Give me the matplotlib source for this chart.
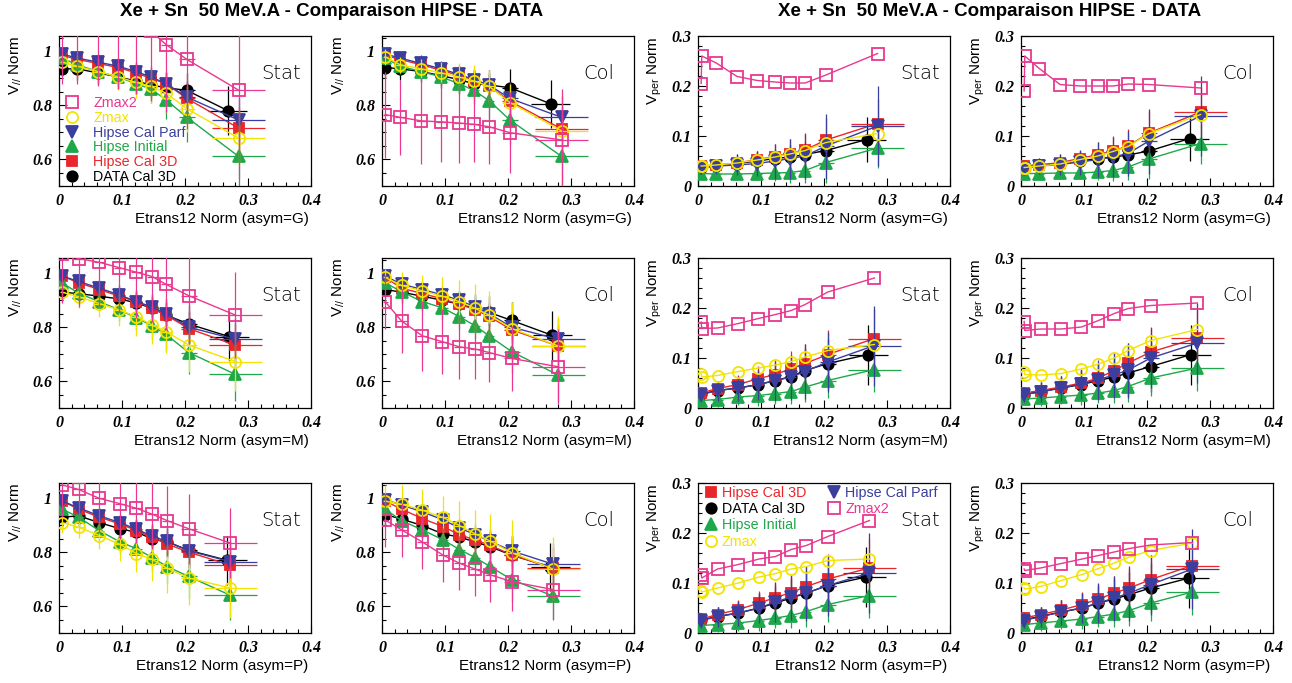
import matplotlib
matplotlib.use("Agg")
import matplotlib.pyplot as plt
from matplotlib.lines import Line2D
from matplotlib.ticker import MultipleLocator
from matplotlib.font_manager import FontProperties

plt.rcParams['font.family'] = ['Liberation Sans', 'DejaVu Sans']
plt.rcParams['mathtext.default'] = 'regular'

# ---------------------------------------------------------------- data
# bin centres in Etrans12 Norm, one list per asymmetry class
x_G = [0.005, 0.029, 0.062, 0.094, 0.122, 0.146, 0.170, 0.203, 0.285]
x_M = [0.005, 0.031, 0.064, 0.096, 0.123, 0.148, 0.170, 0.206, 0.280]
x_P = [0.005, 0.031, 0.064, 0.097, 0.123, 0.148, 0.172, 0.206, 0.272]
# DATA : last bin is a bit lower
xdata_G = [0.005, 0.029, 0.062, 0.094, 0.122, 0.146, 0.170, 0.203, 0.268]
xdata_M = [0.005, 0.031, 0.064, 0.096, 0.123, 0.148, 0.170, 0.206, 0.270]
xdata_P = [0.005, 0.031, 0.064, 0.097, 0.123, 0.148, 0.172, 0.206, 0.267]
# Zmax / Zmax2 in the Vper plots have the first bin twice
xz_G = [0.005, 0.006, 0.029, 0.062, 0.094, 0.122, 0.146, 0.170, 0.203, 0.285]
xz_M = [0.005, 0.006, 0.031, 0.064, 0.096, 0.123, 0.148, 0.170, 0.206, 0.280]
xz_P = [0.005, 0.006, 0.031, 0.064, 0.097, 0.123, 0.148, 0.172, 0.206, 0.272]

xerr_model = [0.004, 0.008, 0.008, 0.008, 0.008, 0.008, 0.008, 0.013, 0.042]
xerr_data = [0.004, 0.008, 0.008, 0.008, 0.008, 0.008, 0.008, 0.013, 0.031]

# ---- V// , asym=G
vpar_G_stat = dict(
    data=[0.935, 0.935, 0.92, 0.905, 0.89, 0.875, 0.865, 0.855, 0.78],
    cal3d=[0.985, 0.97, 0.955, 0.94, 0.92, 0.90, 0.88, 0.825, 0.715],
    initial=[0.975, 0.95, 0.925, 0.905, 0.88, 0.86, 0.82, 0.755, 0.61],
    parf=[0.99, 0.975, 0.96, 0.945, 0.925, 0.905, 0.88, 0.83, 0.745],
    zmax=[0.96, 0.945, 0.925, 0.905, 0.885, 0.87, 0.845, 0.787, 0.678],
    zmax2=[1.18, 1.16, 1.14, 1.12, 1.10, 1.075, 1.025, 0.97, 0.856])
vpar_G_stat_err = dict(
    data=[0.025, 0.04, 0.04, 0.045, 0.05, 0.05, 0.055, 0.065, 0.09],
    cal3d=[0.02, 0.025, 0.03, 0.03, 0.035, 0.04, 0.045, 0.06, 0.08],
    initial=[0.02, 0.03, 0.03, 0.035, 0.04, 0.05, 0.07, 0.09, 0.12],
    parf=[0.02, 0.025, 0.03, 0.03, 0.035, 0.04, 0.045, 0.06, 0.08],
    zmax=[0.03, 0.04, 0.05, 0.05, 0.06, 0.06, 0.07, 0.085, 0.1],
    zmax2=[0.3, 0.28, 0.27, 0.26, 0.26, 0.26, 0.25, 0.26, 0.33])
vpar_G_col = dict(
    data=[0.94, 0.935, 0.925, 0.91, 0.895, 0.88, 0.875, 0.865, 0.805],
    cal3d=[0.985, 0.97, 0.95, 0.93, 0.91, 0.89, 0.87, 0.815, 0.712],
    initial=[0.975, 0.945, 0.925, 0.905, 0.88, 0.855, 0.817, 0.745, 0.61],
    parf=[0.99, 0.975, 0.955, 0.935, 0.915, 0.895, 0.875, 0.825, 0.755],
    zmax=[0.98, 0.95, 0.935, 0.92, 0.905, 0.89, 0.87, 0.81, 0.705],
    zmax2=[0.765, 0.755, 0.742, 0.738, 0.734, 0.729, 0.72, 0.698, 0.671])
vpar_G_col_err = dict(
    data=[0.04, 0.04, 0.04, 0.045, 0.05, 0.05, 0.055, 0.07, 0.09],
    cal3d=[0.02, 0.025, 0.03, 0.03, 0.035, 0.04, 0.045, 0.06, 0.08],
    initial=[0.02, 0.03, 0.03, 0.035, 0.04, 0.05, 0.07, 0.09, 0.12],
    parf=[0.02, 0.025, 0.03, 0.03, 0.035, 0.04, 0.045, 0.06, 0.08],
    zmax=[0.03, 0.03, 0.035, 0.04, 0.05, 0.06, 0.06, 0.07, 0.1],
    zmax2=[0.16, 0.14, 0.16, 0.15, 0.15, 0.14, 0.14, 0.15, 0.19])

# ---- V// , asym=M
vpar_M_stat = dict(
    data=[0.93, 0.925, 0.915, 0.905, 0.89, 0.87, 0.845, 0.812, 0.765],
    cal3d=[0.99, 0.965, 0.94, 0.915, 0.895, 0.87, 0.845, 0.795, 0.733],
    initial=[0.965, 0.926, 0.895, 0.864, 0.835, 0.805, 0.773, 0.706, 0.625],
    parf=[0.99, 0.97, 0.945, 0.92, 0.895, 0.875, 0.85, 0.80, 0.755],
    zmax=[0.93, 0.913, 0.888, 0.864, 0.839, 0.808, 0.783, 0.734, 0.672],
    zmax2=[1.07, 1.055, 1.041, 1.021, 1.004, 0.988, 0.959, 0.917, 0.845])
vpar_M_stat_err = dict(
    data=[0.03, 0.04, 0.045, 0.05, 0.05, 0.055, 0.06, 0.07, 0.09],
    cal3d=[0.02, 0.025, 0.03, 0.03, 0.035, 0.04, 0.045, 0.06, 0.08],
    initial=[0.02, 0.03, 0.035, 0.04, 0.045, 0.05, 0.06, 0.08, 0.1],
    parf=[0.02, 0.025, 0.03, 0.03, 0.035, 0.04, 0.045, 0.06, 0.08],
    zmax=[0.04, 0.04, 0.05, 0.06, 0.07, 0.07, 0.08, 0.1, 0.11],
    zmax2=[0.18, 0.18, 0.17, 0.17, 0.17, 0.17, 0.17, 0.18, 0.16])
vpar_M_col = dict(
    data=[0.94, 0.93, 0.915, 0.9, 0.885, 0.87, 0.855, 0.825, 0.77],
    cal3d=[0.985, 0.945, 0.925, 0.905, 0.885, 0.865, 0.84, 0.79, 0.73],
    initial=[0.965, 0.932, 0.895, 0.872, 0.839, 0.805, 0.768, 0.709, 0.622],
    parf=[0.99, 0.96, 0.94, 0.92, 0.9, 0.875, 0.85, 0.8, 0.755],
    zmax=[0.985, 0.955, 0.935, 0.915, 0.895, 0.87, 0.845, 0.795, 0.73],
    zmax2=[0.895, 0.823, 0.768, 0.746, 0.727, 0.719, 0.706, 0.684, 0.653])
vpar_M_col_err = dict(
    data=[0.03, 0.04, 0.045, 0.05, 0.05, 0.055, 0.06, 0.07, 0.09],
    cal3d=[0.02, 0.025, 0.03, 0.03, 0.035, 0.04, 0.045, 0.06, 0.08],
    initial=[0.02, 0.03, 0.035, 0.04, 0.045, 0.05, 0.06, 0.08, 0.1],
    parf=[0.02, 0.025, 0.03, 0.03, 0.035, 0.04, 0.045, 0.06, 0.08],
    zmax=[0.03, 0.05, 0.06, 0.07, 0.08, 0.09, 0.09, 0.1, 0.11],
    zmax2=[0.1, 0.12, 0.13, 0.12, 0.12, 0.11, 0.11, 0.12, 0.14])

# ---- V// , asym=P
vpar_P_stat = dict(
    data=[0.93, 0.935, 0.91, 0.887, 0.874, 0.85, 0.838, 0.807, 0.77],
    cal3d=[0.99, 0.96, 0.93, 0.905, 0.88, 0.855, 0.83, 0.8, 0.752],
    initial=[0.96, 0.93, 0.88, 0.838, 0.813, 0.78, 0.746, 0.71, 0.64],
    parf=[0.99, 0.965, 0.935, 0.91, 0.885, 0.86, 0.84, 0.805, 0.765],
    zmax=[0.91, 0.893, 0.862, 0.829, 0.795, 0.773, 0.74, 0.704, 0.667],
    zmax2=[1.05, 1.033, 1.0, 0.98, 0.963, 0.941, 0.917, 0.887, 0.834])
vpar_P_stat_err = dict(
    data=[0.04, 0.04, 0.045, 0.05, 0.05, 0.055, 0.06, 0.07, 0.09],
    cal3d=[0.02, 0.025, 0.03, 0.03, 0.035, 0.04, 0.045, 0.06, 0.08],
    initial=[0.02, 0.03, 0.035, 0.04, 0.045, 0.05, 0.06, 0.08, 0.09],
    parf=[0.02, 0.025, 0.03, 0.03, 0.035, 0.04, 0.045, 0.06, 0.08],
    zmax=[0.04, 0.04, 0.05, 0.06, 0.07, 0.08, 0.09, 0.1, 0.11],
    zmax2=[0.12, 0.12, 0.13, 0.13, 0.13, 0.13, 0.13, 0.13, 0.13])
vpar_P_col = dict(
    data=[0.94, 0.923, 0.899, 0.868, 0.856, 0.838, 0.82, 0.789, 0.746],
    cal3d=[0.99, 0.96, 0.925, 0.895, 0.865, 0.845, 0.825, 0.79, 0.74],
    initial=[0.96, 0.917, 0.883, 0.846, 0.81, 0.78, 0.746, 0.698, 0.637],
    parf=[0.995, 0.975, 0.95, 0.92, 0.89, 0.865, 0.84, 0.805, 0.755],
    zmax=[0.99, 0.978, 0.956, 0.929, 0.899, 0.868, 0.841, 0.798, 0.737],
    zmax2=[0.92, 0.883, 0.838, 0.789, 0.759, 0.737, 0.716, 0.691, 0.661])
vpar_P_col_err = dict(
    data=[0.04, 0.04, 0.045, 0.05, 0.05, 0.055, 0.06, 0.07, 0.09],
    cal3d=[0.02, 0.025, 0.03, 0.03, 0.035, 0.04, 0.045, 0.06, 0.08],
    initial=[0.02, 0.03, 0.035, 0.04, 0.045, 0.05, 0.06, 0.08, 0.09],
    parf=[0.02, 0.025, 0.03, 0.03, 0.035, 0.04, 0.045, 0.06, 0.08],
    zmax=[0.06, 0.07, 0.08, 0.08, 0.09, 0.09, 0.1, 0.12, 0.12],
    zmax2=[0.1, 0.1, 0.1, 0.1, 0.1, 0.1, 0.1, 0.11, 0.11])

# ---- Vper (Zmax, Zmax2 : 10 values, no error bars)
vper_G_stat = dict(
    data=[0.036, 0.04, 0.045, 0.05, 0.055, 0.058, 0.063, 0.071, 0.093],
    cal3d=[0.04, 0.042, 0.046, 0.053, 0.059, 0.065, 0.072, 0.092, 0.125],
    initial=[0.025, 0.024, 0.024, 0.025, 0.026, 0.027, 0.031, 0.047, 0.076],
    parf=[0.036, 0.04, 0.042, 0.045, 0.05, 0.055, 0.06, 0.08, 0.12],
    zmax=[0.04, 0.04, 0.042, 0.046, 0.052, 0.058, 0.064, 0.071, 0.087, 0.105],
    zmax2=[0.205, 0.26, 0.246, 0.219, 0.211, 0.208, 0.206, 0.206, 0.222, 0.265])
vper_G_col = dict(
    data=[0.04, 0.042, 0.045, 0.05, 0.055, 0.058, 0.062, 0.07, 0.095],
    cal3d=[0.04, 0.042, 0.047, 0.055, 0.063, 0.07, 0.08, 0.106, 0.148],
    initial=[0.025, 0.025, 0.026, 0.026, 0.028, 0.031, 0.038, 0.054, 0.085],
    parf=[0.035, 0.04, 0.043, 0.048, 0.053, 0.058, 0.065, 0.09, 0.14],
    zmax=[0.037, 0.037, 0.04, 0.044, 0.053, 0.06, 0.069, 0.079, 0.105, 0.143],
    zmax2=[0.19, 0.26, 0.235, 0.203, 0.2, 0.2, 0.2, 0.204, 0.203, 0.196])
vper_G_err = dict(
    data=[0.01, 0.015, 0.02, 0.02, 0.02, 0.025, 0.025, 0.03, 0.045],
    cal3d=[0.01, 0.01, 0.012, 0.015, 0.025, 0.03, 0.035, 0.045, 0.05],
    initial=[0.008, 0.01, 0.012, 0.012, 0.015, 0.02, 0.025, 0.04, 0.04],
    parf=[0.012, 0.015, 0.02, 0.025, 0.035, 0.04, 0.045, 0.065, 0.08])

vper_M_stat = dict(
    data=[0.028, 0.035, 0.04, 0.047, 0.055, 0.063, 0.075, 0.089, 0.107],
    cal3d=[0.03, 0.039, 0.047, 0.059, 0.067, 0.079, 0.089, 0.107, 0.139],
    initial=[0.015, 0.017, 0.022, 0.025, 0.029, 0.033, 0.042, 0.055, 0.077],
    parf=[0.027, 0.035, 0.04, 0.047, 0.055, 0.062, 0.073, 0.092, 0.125],
    zmax=[0.068, 0.062, 0.065, 0.073, 0.08, 0.086, 0.093, 0.102, 0.115, 0.127],
    zmax2=[0.172, 0.159, 0.16, 0.169, 0.179, 0.187, 0.195, 0.207, 0.232, 0.26])
vper_M_col = dict(
    data=[0.027, 0.033, 0.04, 0.047, 0.055, 0.062, 0.07, 0.083, 0.107],
    cal3d=[0.03, 0.035, 0.042, 0.05, 0.06, 0.075, 0.09, 0.112, 0.14],
    initial=[0.018, 0.02, 0.023, 0.026, 0.03, 0.035, 0.043, 0.06, 0.08],
    parf=[0.027, 0.032, 0.04, 0.048, 0.057, 0.066, 0.076, 0.1, 0.13],
    zmax=[0.072, 0.067, 0.066, 0.069, 0.078, 0.088, 0.1, 0.115, 0.135, 0.157],
    zmax2=[0.173, 0.155, 0.158, 0.158, 0.162, 0.175, 0.189, 0.199, 0.205, 0.21])
vper_M_err = dict(
    data=[0.015, 0.02, 0.025, 0.03, 0.035, 0.04, 0.045, 0.05, 0.06],
    cal3d=[0.01, 0.015, 0.02, 0.025, 0.03, 0.035, 0.04, 0.05, 0.06],
    initial=[0.01, 0.015, 0.015, 0.02, 0.02, 0.025, 0.03, 0.035, 0.045],
    parf=[0.015, 0.02, 0.025, 0.03, 0.04, 0.045, 0.055, 0.06, 0.08])

vper_P_stat = dict(
    data=[0.026, 0.033, 0.04, 0.05, 0.06, 0.07, 0.08, 0.095, 0.112],
    cal3d=[0.028, 0.037, 0.047, 0.06, 0.071, 0.081, 0.093, 0.108, 0.13],
    initial=[0.015, 0.017, 0.02, 0.025, 0.03, 0.035, 0.043, 0.057, 0.075],
    parf=[0.025, 0.033, 0.04, 0.05, 0.062, 0.072, 0.08, 0.095, 0.12],
    zmax=[0.085, 0.082, 0.09, 0.1, 0.112, 0.119, 0.128, 0.133, 0.145, 0.148],
    zmax2=[0.117, 0.11, 0.128, 0.137, 0.148, 0.153, 0.167, 0.175, 0.193, 0.225])
vper_P_col = dict(
    data=[0.027, 0.033, 0.042, 0.05, 0.06, 0.068, 0.077, 0.09, 0.11],
    cal3d=[0.03, 0.037, 0.046, 0.057, 0.068, 0.08, 0.09, 0.107, 0.135],
    initial=[0.017, 0.02, 0.024, 0.028, 0.033, 0.038, 0.045, 0.06, 0.082],
    parf=[0.025, 0.033, 0.042, 0.05, 0.06, 0.07, 0.08, 0.097, 0.128],
    zmax=[0.09, 0.088, 0.093, 0.105, 0.117, 0.129, 0.14, 0.152, 0.165, 0.18],
    zmax2=[0.128, 0.125, 0.13, 0.139, 0.148, 0.155, 0.162, 0.169, 0.176, 0.181])
vper_P_err = dict(
    data=[0.015, 0.02, 0.025, 0.03, 0.035, 0.04, 0.045, 0.05, 0.06],
    cal3d=[0.01, 0.015, 0.02, 0.025, 0.03, 0.035, 0.04, 0.05, 0.06],
    initial=[0.01, 0.015, 0.015, 0.02, 0.02, 0.025, 0.03, 0.035, 0.045],
    parf=[0.015, 0.02, 0.025, 0.03, 0.04, 0.045, 0.055, 0.06, 0.08])

# ---------------------------------------------------------------- styles
series = ['data', 'cal3d', 'initial', 'parf', 'zmax', 'zmax2']   # drawing order
labels = {'data': 'DATA Cal 3D', 'cal3d': 'Hipse Cal 3D', 'initial': 'Hipse Initial',
          'parf': 'Hipse Cal Parf', 'zmax': 'Zmax', 'zmax2': 'Zmax2'}
colors = {'data': 'black', 'cal3d': '#e8262b', 'initial': '#1ea84a',
          'parf': '#3a3e9e', 'zmax': '#f2e400', 'zmax2': '#e8388f'}
markers = {'data': 'o', 'cal3d': 's', 'initial': '^', 'parf': 'v', 'zmax': 'o', 'zmax2': 's'}
msize = {'data': 7.5, 'cal3d': 7, 'initial': 8, 'parf': 8, 'zmax': 8, 'zmax2': 8.5}
hollow = {'zmax', 'zmax2'}

tick_fp = FontProperties(family='Liberation Serif', weight='bold', style='italic', size=11.5)

W, H = 1292, 683
lefts = [59, 382, 698, 1021]
tops = [36, 258, 483]


def handle(k):
    c = colors[k]
    return Line2D([], [], ls='none', marker=markers[k], ms=msize[k], color=c,
                  mfc='none' if k in hollow else c, mec=c, mew=1.3)


def add_legend(ax, keys, anchor, **kw):
    return ax.legend([handle(k) for k in keys], [labels[k] for k in keys],
                     loc='upper left', bbox_to_anchor=anchor, frameon=False,
                     fontsize=10.3, borderpad=0.2, borderaxespad=0,
                     labelcolor=[colors[k] for k in keys], **kw)


def draw(ax, vals, errs, x, xd, xz, kind, tag, asym):
    for i, k in enumerate(series):
        c = colors[k]
        kw = dict(color=c, marker=markers[k], ms=msize[k], mec=c,
                  mfc='none' if k in hollow else c, mew=1.3, lw=1.0, zorder=2 + i)
        if kind == 'vper' and k in hollow:
            ax.plot(xz, vals[k], **kw)
            continue
        xx = xd if k == 'data' else x
        xe = xerr_data if k == 'data' else xerr_model
        ax.errorbar(xx, vals[k], yerr=errs[k], xerr=xe, elinewidth=0.9, capsize=0, **kw)

    ax.set_xlim(0, 0.4)
    ax.set_xticks([0, 0.1, 0.2, 0.3, 0.4])
    ax.set_xticklabels(['0', '0.1', '0.2', '0.3', '0.4'], fontproperties=tick_fp)
    ax.xaxis.set_minor_locator(MultipleLocator(0.02))
    if kind == 'vpar':
        ax.set_ylim(0.5, 1.057)
        ax.set_yticks([0.6, 0.8, 1.0])
        ax.set_yticklabels(['0.6', '0.8', '1'], fontproperties=tick_fp)
        ax.yaxis.set_minor_locator(MultipleLocator(0.05))
        ylab = 'V$_{//}$ Norm'
    else:
        ax.set_ylim(0, 0.3)
        ax.set_yticks([0, 0.1, 0.2, 0.3])
        ax.set_yticklabels(['0', '0.1', '0.2', '0.3'], fontproperties=tick_fp)
        ax.yaxis.set_minor_locator(MultipleLocator(0.02))
        ylab = 'V$_{per}$ Norm'
    ax.tick_params(which='both', direction='in', top=False, right=False)
    ax.tick_params(which='major', length=5.5, width=0.8, pad=5)
    ax.tick_params(which='minor', length=2.8, width=0.8)
    for s in ax.spines.values():
        s.set_linewidth(0.9)

    ax.set_ylabel(ylab, loc='top', va='center', fontsize=11)
    ax.yaxis.set_label_coords(-0.17, 1.0)
    ax.set_xlabel('Etrans12 Norm (asym=%s)' % asym, fontsize=11, ha='right', va='center')
    ax.xaxis.set_label_coords(0.99, -0.22)
    ax.text(0.88 if tag == 'Stat' else 0.86, 0.75, tag, transform=ax.transAxes,
            ha='center', va='center', fontsize=14, family='DejaVu Sans', fontweight=200)


fig = plt.figure(figsize=(W / 100, H / 100), dpi=100)

rows = [('G', x_G, xdata_G, xz_G,
         [vpar_G_stat, vpar_G_col, vper_G_stat, vper_G_col],
         [vpar_G_stat_err, vpar_G_col_err, vper_G_err, vper_G_err]),
        ('M', x_M, xdata_M, xz_M,
         [vpar_M_stat, vpar_M_col, vper_M_stat, vper_M_col],
         [vpar_M_stat_err, vpar_M_col_err, vper_M_err, vper_M_err]),
        ('P', x_P, xdata_P, xz_P,
         [vpar_P_stat, vpar_P_col, vper_P_stat, vper_P_col],
         [vpar_P_stat_err, vpar_P_col_err, vper_P_err, vper_P_err])]

axes = {}
for r, (asym, x, xd, xz, vals_list, err_list) in enumerate(rows):
    for c in range(4):
        ax = fig.add_axes([lefts[c] / W, 1 - (tops[r] + 150) / H, 252 / W, 150 / H])
        kind = 'vpar' if c < 2 else 'vper'
        tag = 'Stat' if c % 2 == 0 else 'Col'
        draw(ax, vals_list[c], err_list[c], x, xd, xz, kind, tag, asym)
        axes[(r, c)] = ax

# legends
add_legend(axes[(0, 0)], ['zmax2', 'zmax', 'parf', 'initial', 'cal3d', 'data'], (0.0, 0.62),
           handlelength=1.4, handletextpad=0.8, labelspacing=0.06)
ax11 = axes[(2, 2)]
leg_a = add_legend(ax11, ['cal3d', 'data', 'initial', 'zmax'], (0.01, 1.0),
                   handlelength=1.0, handletextpad=0.3, labelspacing=0.16)
ax11.add_artist(leg_a)
add_legend(ax11, ['parf', 'zmax2'], (0.50, 1.0),
           handlelength=1.0, handletextpad=0.3, labelspacing=0.16)

title = 'Xe + Sn  50 MeV.A - Comparaison HIPSE - DATA'
fig.text(332 / W, 1 - 12 / H, title, ha='center', va='center', fontsize=13.5, fontweight='bold')
fig.text(990 / W, 1 - 12 / H, title, ha='center', va='center', fontsize=13.5, fontweight='bold')

fig.savefig('out.png', dpi=100)
